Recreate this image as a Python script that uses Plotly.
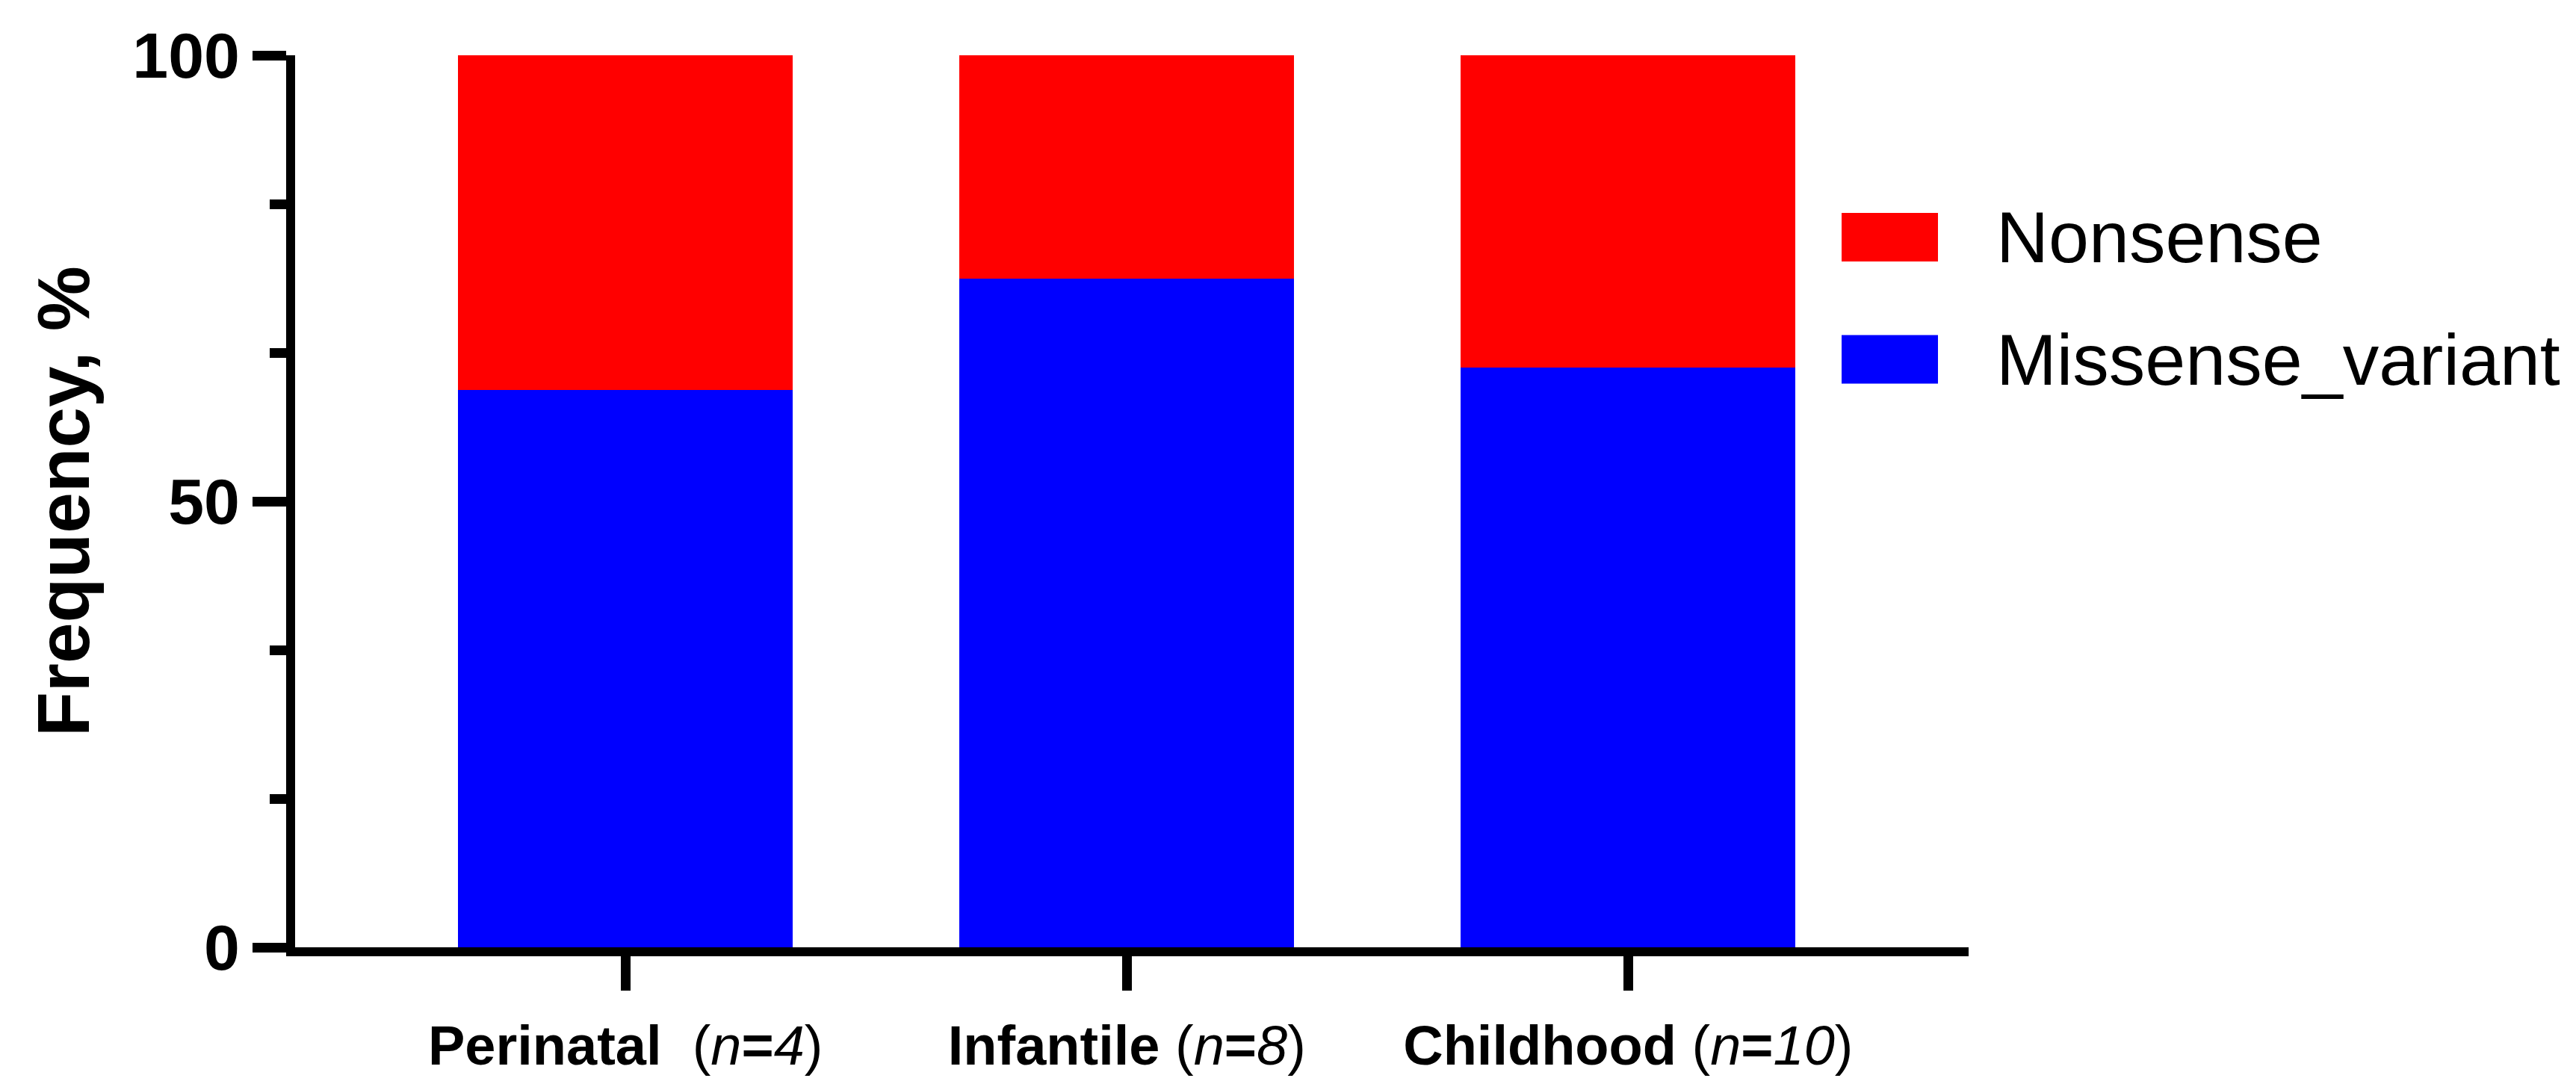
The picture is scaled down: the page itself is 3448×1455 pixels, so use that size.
import plotly.graph_objects as go

group_names = ["Perinatal", "Infantile", "Childhood"]
group_n = [4, 8, 10]
group_sep = ["\u00a0\u00a0", "\u00a0", "\u00a0"]
missense = [62.5, 75.0, 65.0]
nonsense = [37.5, 25.0, 35.0]
series_names = ["Nonsense", "Missense_variant"]
series_colors = ["#FF0000", "#0000FF"]
y_ticks = [0, 50, 100]

categories = [f"<b>{g}</b>{s}(<i>n</i><b>=</b><i>{n}</i>)" for g, s, n in zip(group_names, group_sep, group_n)]

W, H = 3448, 1455
L, R, T, B = 387, 821, 66, 195
pw, ph = W - L - R, H - T - B

FONT = "Liberation Sans, Arial, sans-serif"

fig = go.Figure()
fig.add_trace(go.Bar(x=categories, y=missense, name=series_names[1],
                     marker=dict(color=series_colors[1], line=dict(width=0))))
fig.add_trace(go.Bar(x=categories, y=nonsense, name=series_names[0],
                     marker=dict(color=series_colors[0], line=dict(width=0))))

fig.update_layout(
    width=W, height=H,
    margin=dict(l=L, r=R, t=T, b=B),
    barmode="stack", bargap=0.332,
    plot_bgcolor="white", paper_bgcolor="white",
    showlegend=False,
    font=dict(family=FONT, color="black"),
)
fig.update_xaxes(
    type="category", range=[-0.659, 2.679],
    showline=True, linewidth=12, linecolor="black",
    ticks="outside", ticklen=46, tickwidth=13, tickcolor="black",
    showgrid=False, zeroline=False,
    tickfont=dict(size=74, family=FONT, color="black"),
    ticklabelstandoff=10,
)
fig.update_yaxes(
    range=[0, 100], tickmode="array", tickvals=y_ticks,
    ticktext=[f"<b>{v}</b>" for v in y_ticks],
    showline=True, linewidth=12, linecolor="black",
    ticks="outside", ticklen=45, tickwidth=13, tickcolor="black",
    minor=dict(tick0=0, dtick=100 / 6, ticks="outside", ticklen=22, tickwidth=13, tickcolor="black"),
    showgrid=False, zeroline=False,
    tickfont=dict(size=86, family=FONT, color="black"),
)

# y-axis title
fig.add_annotation(
    text="<b>Frequency, %</b>", xref="paper", yref="paper",
    x=(77 - L) / pw, y=0.5, xanchor="center", yanchor="middle",
    textangle=-90, showarrow=False,
    font=dict(size=98, family=FONT, color="black"),
)

# custom legend (large swatches)
legend_rows = [(series_names[0], series_colors[0], 309.5), (series_names[1], series_colors[1], 473)]
for name, col, cy in legend_rows:
    fig.add_shape(type="rect", xref="paper", yref="paper",
                  x0=(2457 - L) / pw, x1=(2586 - L) / pw,
                  y0=(H - B - (cy + 32.5)) / ph, y1=(H - B - (cy - 32.5)) / ph,
                  fillcolor=col, line=dict(width=0))
    fig.add_annotation(text=name, xref="paper", yref="paper",
                       x=(2662 - L) / pw, y=(H - B - cy) / ph,
                       xanchor="left", yanchor="middle", showarrow=False,
                       font=dict(size=97, family=FONT, color="black"))

fig.write_html("out.html")
